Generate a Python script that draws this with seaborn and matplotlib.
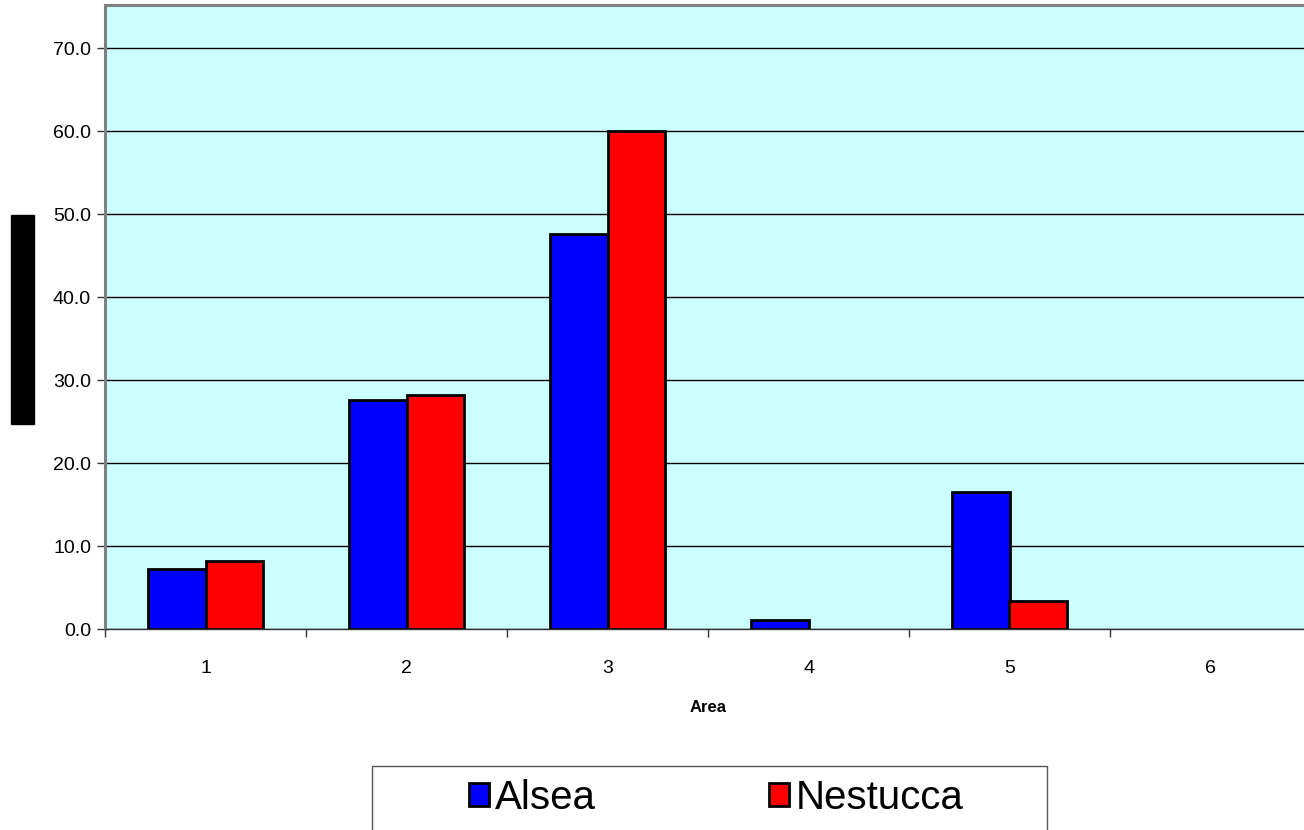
import numpy as np
import pandas as pd
import matplotlib
matplotlib.use('Agg')
import matplotlib.pyplot as plt
from matplotlib.patches import Rectangle
import seaborn as sns

# data
areas = ['1', '2', '3', '4', '5', '6']
alsea = [7.2, 27.6, 47.6, 1.1, 16.5, 0.0]
nestucca = [8.2, 28.2, 60.0, 0.0, 3.4, 0.0]
series = ['Alsea', 'Nestucca']
colors = ['#0000FF', '#FF0000']
yticks = [0, 10, 20, 30, 40, 50, 60, 70]

df = pd.DataFrame({
    'Area': areas * 2,
    'value': alsea + nestucca,
    'river': [series[0]] * len(areas) + [series[1]] * len(areas),
})

sns.set_style('white')
plt.rcParams['font.family'] = ['Liberation Sans', 'DejaVu Sans']
plt.rcParams['text.color'] = 'black'
plt.rcParams['xtick.color'] = 'black'
plt.rcParams['ytick.color'] = 'black'
plt.rcParams['axes.labelcolor'] = 'black'

W, H = 1304, 830
fig = plt.figure(figsize=(W / 100, H / 100), dpi=100)
ax = fig.add_axes([105 / W, 1 - 629 / H, (1311 - 105) / W, (629 - 5) / H])

sns.barplot(data=df, x='Area', y='value', hue='river', palette=colors,
            width=0.577, edgecolor='black', linewidth=2, saturation=1, ax=ax)

# empty bars show nothing in the original
for p in ax.patches:
    if p.get_height() == 0:
        p.set_linewidth(0)

ax.set_facecolor('#CCFFFF')
ax.set_ylim(0, 75.2)
ax.set_yticks(yticks)
ax.set_yticklabels([f'{v:.1f}' for v in yticks], fontsize=14)
ax.yaxis.grid(True, color='black', linewidth=1)
ax.set_axisbelow(True)

ax.set_xticks(np.arange(-0.5, 6, 1), minor=True)
ax.tick_params(axis='x', which='major', length=0, pad=22, labelsize=14)
ax.tick_params(axis='x', which='minor', bottom=True, length=6, width=1, color='#333333')
ax.tick_params(axis='y', left=True, length=6, width=1, color='#333333', pad=4)

ax.set_xlabel('Area', fontsize=12, fontweight='bold', labelpad=17)
ax.set_ylabel('')

for side in ['left', 'top']:
    ax.spines[side].set_color('#808080')
    ax.spines[side].set_linewidth(2.2)
ax.spines['bottom'].set_color('#333333')
ax.spines['bottom'].set_linewidth(1)
ax.spines['right'].set_visible(False)

handles, labels = ax.get_legend_handles_labels()
ax.legend_.remove()
leg = fig.legend(handles, labels, loc='center', ncol=2,
                 bbox_to_anchor=(716 / W, 1 - 798 / H),
                 fontsize=29, frameon=False,
                 handlelength=0.5, handleheight=0.5, handletextpad=0.15,
                 columnspacing=4.3, borderpad=0, borderaxespad=0)
for h in leg.legend_handles:
    h.set_edgecolor('black')
    h.set_linewidth(2)

# legend box, cut off by the bottom of the figure
fig.patches.append(Rectangle((372 / W, -0.05), (1047 - 372) / W, 0.05 + 1 - 766 / H,
                             transform=fig.transFigure, facecolor='none',
                             edgecolor='#555555', linewidth=1))

# blacked-out y-axis label
fig.patches.append(Rectangle((11 / W, 1 - 424 / H), 23 / W, 209 / H,
                             transform=fig.transFigure, color='black'))

fig.savefig('out.png', dpi=100)
